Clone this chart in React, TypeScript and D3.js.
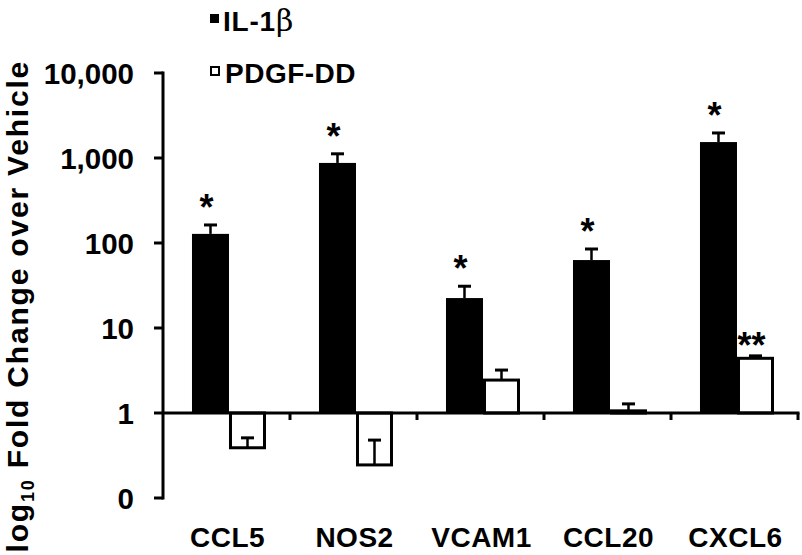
import React from "react";
import * as d3 from "d3";

const categories = ["CCL5", "NOS2", "VCAM1", "CCL20", "CXCL6"];
const seriesNames = ["IL-1β", "PDGF-DD"];
const il1b = [128, 875, 22.5, 63, 1540];
const il1bErr = [35, 245, 8.5, 22, 430];
const pdgf = [0.39, 0.245, 2.44, 1.06, 4.4];
const pdgfErr = [0.12, 0.235, 0.76, 0.22, 0.3];
const il1bSig = ["*", "*", "*", "*", "*"];
const pdgfSig = ["", "", "", "", "**"];
const yTicks = [0.1, 1, 10, 100, 1000, 10000];
const yTickLabels = ["0", "1", "10", "100", "1,000", "10,000"];

const W = 802;
const H = 555;
const FONT = "'Liberation Sans', Arial, sans-serif";

export default function App() {
  const x0 = d3.scaleBand<string>().domain(categories).range([163, 798]).padding(0);
  const x1 = d3
    .scaleBand<string>()
    .domain(seriesNames)
    .range([0, x0.bandwidth()])
    .paddingInner(0)
    .paddingOuter(0.716)
    .align(0.547);
  const y = d3.scaleLog().domain([0.1, 10000]).range([498, 73]);
  const y1 = y(1);
  const bw = x1.bandwidth();

  const series = [
    { name: seriesNames[0], vals: il1b, errs: il1bErr, sig: il1bSig },
    { name: seriesNames[1], vals: pdgf, errs: pdgfErr, sig: pdgfSig },
  ];

  const legendLabel = (s: string) => {
    const idx = s.indexOf("β");
    if (idx < 0) return s;
    return (
      <>
        {s.slice(0, idx)}
        <tspan fontFamily="'DejaVu Serif', 'Liberation Serif', serif" fontWeight="normal" fontSize={30}>
          β
        </tspan>
      </>
    );
  };

  return (
    <svg
      width={W}
      height={H}
      style={{ position: "absolute", left: 0, top: 0, background: "#fff" }}
      fontFamily={FONT}
      fontWeight="bold"
    >
      <rect x={0} y={0} width={W} height={H} fill="#fff" />
      {/* bars */}
      {series.map((s, si) =>
        categories.map((c, i) => {
          const bx = (x0(c) as number) + (x1(s.name) as number);
          const v = s.vals[i];
          const yv = y(v);
          const top = Math.min(yv, y1);
          const h = Math.abs(yv - y1);
          const isWhite = si === 1;
          const errTop = y(v + s.errs[i]);
          const cx = bx + bw / 2;
          return (
            <g key={s.name + c}>
              {isWhite ? (
                <rect
                  x={bx + 1.5}
                  y={top}
                  width={bw - 3}
                  height={h}
                  fill="#fff"
                  stroke="#000"
                  strokeWidth={3}
                />
              ) : (
                <rect x={bx} y={top} width={bw} height={h} fill="#000" />
              )}
              <line x1={cx} x2={cx} y1={yv} y2={errTop} stroke="#000" strokeWidth={2.5} />
              <line x1={cx - 6.5} x2={cx + 6.5} y1={errTop} y2={errTop} stroke="#000" strokeWidth={3} />
              {s.sig[i] && (
                <text
                  x={cx - 4}
                  y={Math.min(errTop, top) - (s.sig[i].length > 1 ? -2 : 5)}
                  textAnchor="middle"
                  fontSize={36}
                  fill="#000"
                >
                  {s.sig[i]}
                </text>
              )}
            </g>
          );
        })
      )}
      {/* x axis */}
      <line x1={163} x2={799.5} y1={y1} y2={y1} stroke="#000" strokeWidth={3} />
      {categories.map((c) => {
        const tx = (x0(c) as number) + x0.bandwidth();
        return <line key={"xt" + c} x1={tx} x2={tx} y1={y1} y2={y1 + 7} stroke="#000" strokeWidth={3} />;
      })}
      {categories.map((c) => (
        <text
          key={"xl" + c}
          x={(x0(c) as number) + x0.bandwidth() / 2 + 1}
          y={546.5}
          textAnchor="middle"
          fontSize={28}
          letterSpacing={0.5}
          fill="#000"
        >
          {c}
        </text>
      ))}
      {/* y axis */}
      <line x1={163} x2={163} y1={71.5} y2={499.5} stroke="#000" strokeWidth={3} />
      {yTicks.map((t, i) => (
        <g key={"yt" + t}>
          <line x1={154} x2={163} y1={y(t)} y2={y(t)} stroke="#000" strokeWidth={3} />
          <text x={134} y={y(t)} dy="0.37em" textAnchor="end" fontSize={29.5} fill="#000">
            {yTickLabels[i]}
          </text>
        </g>
      ))}
      {/* y title */}
      <text
        transform="translate(28,60) rotate(-90)"
        textAnchor="end"
        fontSize={30}
        letterSpacing={1.8}
        fill="#000"
      >
        log
        <tspan fontSize={18} dy={6}>
          10
        </tspan>
        <tspan dy={-6}> Fold Change over Vehicle</tspan>
      </text>
      {/* legend */}
      <rect x={210} y={14} width={9} height={9} fill="#000" />
      <text x={223} y={31} fontSize={28} letterSpacing={0.8} fill="#000">
        {legendLabel(seriesNames[0])}
      </text>
      <rect x={211} y={67} width={8} height={8} fill="#fff" stroke="#000" strokeWidth={2} />
      <text x={225} y={82.5} fontSize={28} letterSpacing={0.5} fill="#000">
        {legendLabel(seriesNames[1])}
      </text>
    </svg>
  );
}
